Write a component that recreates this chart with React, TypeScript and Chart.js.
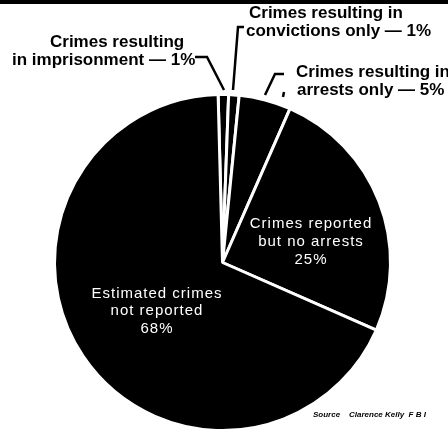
import React, { useEffect, useRef } from "react";
import { Chart, registerables } from "chart.js";

Chart.register(...registerables);

// ---- data ----
const categories = [
  "Crimes resulting in imprisonment",
  "Crimes resulting in convictions only",
  "Crimes resulting in arrests only",
  "Crimes reported but no arrests",
  "Estimated crimes not reported",
];
const shares = [1, 1, 5, 25, 68];
const outsideLabels = [
  ["Crimes resulting", `in imprisonment — ${shares[0]}%`],
  ["Crimes resulting in", `convictions only — ${shares[1]}%`],
  ["Crimes resulting in", `arrests only — ${shares[2]}%`],
];
const insideLabels = [
  ["Crimes reported", "but no arrests", `${shares[3]}%`],
  ["Estimated crimes", "not reported", `${shares[4]}%`],
];
const sourceNote = "Source    Clarence Kelly  F B I";

// ---- placement (styles / positions) ----
const outsidePos = [
  [{ x: 50, y: 47 }, { x: 12, y: 65 }],
  [{ x: 249, y: 18 }, { x: 246, y: 36 }],
  [{ x: 296, y: 77 }, { x: 297, y: 95 }],
];
const leaders = [
  [[195, 57], [207, 57], [224, 90]],
  [[244, 27], [238, 27], [233, 90]],
  [[284, 74], [275, 74], [265, 95]],
  [[284, 92], [283, 97]],
];
const insidePos = [
  { x: 311, ys: [228, 246, 264] },
  { x: 157, ys: [298, 315, 333] },
];

const labelPlugin = {
  id: "annot",
  beforeDraw(chart: any) {
    const ctx = chart.ctx;
    ctx.save();
    ctx.fillStyle = "#000";
    ctx.fillRect(0, 0, chart.width, 4);
    ctx.restore();
  },
  afterDraw(chart: any) {
    const ctx = chart.ctx as CanvasRenderingContext2D;
    ctx.save();
    ctx.fillStyle = "#000";
    ctx.textAlign = "left";
    ctx.textBaseline = "alphabetic";
    ctx.font = "bold 17px 'Liberation Sans', Arial, sans-serif";
    outsideLabels.forEach((lines, i) => {
      lines.forEach((t, j) => {
        const p = outsidePos[i][j];
        ctx.fillText(t, p.x, p.y);
      });
    });
    ctx.strokeStyle = "#000";
    ctx.lineWidth = 2.5;
    leaders.forEach((pts) => {
      ctx.beginPath();
      pts.forEach(([x, y], k) => (k === 0 ? ctx.moveTo(x, y) : ctx.lineTo(x, y)));
      ctx.stroke();
    });
    ctx.fillStyle = "#fff";
    ctx.textAlign = "center";
    ctx.font = "15px 'Liberation Sans', Arial, sans-serif";
    (ctx as any).letterSpacing = "1px";
    insideLabels.forEach((lines, i) => {
      const p = insidePos[i];
      lines.forEach((t, j) => ctx.fillText(t, p.x, p.ys[j]));
    });
    (ctx as any).letterSpacing = "0px";
    ctx.fillStyle = "#000";
    ctx.textAlign = "left";
    ctx.font = "italic bold 8px 'Liberation Sans', Arial, sans-serif";
    ctx.fillText(sourceNote, 313, 417);
    ctx.restore();
  },
};

export default function App() {
  const ref = useRef<HTMLCanvasElement | null>(null);
  useEffect(() => {
    if (!ref.current) return;
    const chart = new Chart(ref.current, {
      type: "pie",
      data: {
        labels: categories,
        datasets: [
          {
            data: shares,
            backgroundColor: "#000",
            borderColor: "#fff",
            borderWidth: 3,
          },
        ],
      },
      options: {
        responsive: false,
        animation: false,
        rotation: -1.5,
        layout: { padding: { left: 53, right: 56, top: 93, bottom: 38 } },
        plugins: { legend: { display: false }, tooltip: { enabled: false } },
      },
      plugins: [labelPlugin],
    });
    return () => chart.destroy();
  }, []);
  return (
    <div
      style={{
        position: "fixed",
        left: 0,
        top: 0,
        width: 448,
        height: 434,
        overflow: "hidden",
        background: "#fff",
      }}
    >
      <canvas ref={ref} width={448} height={470} style={{ display: "block" }} />
    </div>
  );
}
